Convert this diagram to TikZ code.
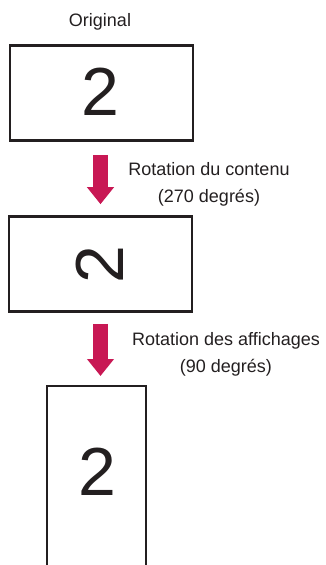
\documentclass[tikz,border=0pt]{standalone}
\usepackage{fontspec}
\setmainfont{Liberation Sans}
\usetikzlibrary{arrows.meta}
\definecolor{lgred}{RGB}{200,24,84}
\definecolor{frame}{RGB}{35,31,32}
\tikzset{
	screen/.style={draw=frame,line width=2.6pt,minimum width=183pt,minimum height=95pt,inner sep=0pt},
	digit/.style={frame,inner sep=0pt,font=\fontsize{68}{68}\selectfont},
	turn/.style={draw=lgred,line width=15pt,-{Triangle[width=26pt,length=17pt,fill=lgred]}},
	caption/.style={align=center,text=frame,font=\fontsize{18}{27}\selectfont}
}
\begin{document}
\begin{tikzpicture}[x=1pt,y=-1pt]
	\useasboundingbox (0,0) rectangle (325,565);

	\node[caption] (title) at (100,22.3) {Original};
	\node[screen] (orig) at (101.5,93) {};
	\node[digit] (two1) at (100,92) {2};

	\node[screen] (cont) at (100.5,264) {};
	\node[digit,rotate=90] (two2) at (100,265) {2};

	% the turned display, open at the bottom
	\coordinate (tl) at (47,386);
	\coordinate (tr) at (146,386);
	\draw[frame,line width=2.6pt] (tl |- 0,570) -- (tl) -- (tr) -- (tr |- 0,570);
	\node[digit] (two3) at (97,472) {2};

	\draw[turn,shorten <=13pt,shorten >=11pt] (cont.north |- orig.south) -- (cont.north);
	\draw[turn,shorten <=11pt,shorten >=10pt] (cont.south) -- (cont.south |- tl);

	\node[caption] (lab1) at (209,184) {Rotation du contenu\\(270 degrés)};
	\node[caption] (lab2) at (226,354) {Rotation des affichages\\(90 degrés)};
\end{tikzpicture}
\end{document}
